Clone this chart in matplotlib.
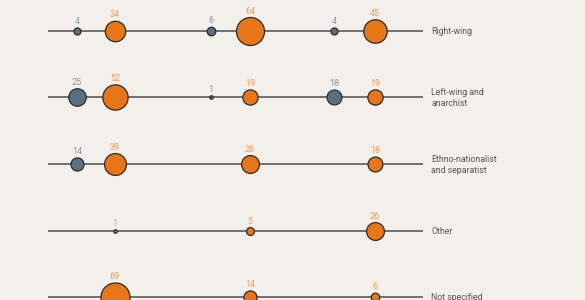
import numpy as np
import matplotlib.pyplot as plt

plt.rcParams['font.family'] = ['Roboto', 'DejaVu Sans']

# rows of the chart
categories = ["Right-wing", "Left-wing and\nanarchist", "Ethno-nationalist\nand separatist",
              "Other", "Not specified"]

# three groups, each with a grey and an orange series (None = no circle)
grey_1 = [4, 25, 14, None, None]
orange_1 = [34, 52, 39, 1, 69]
grey_2 = [6, 1, None, None, None]
orange_2 = [64, 19, 26, 5, 14]
grey_3 = [4, 18, None, None, None]
orange_3 = [45, 19, 18, 26, 6]

BG = '#f3f0eb'
GREY = '#5a6e84'
ORANGE = '#e87517'
GREY_TXT = '#8a96a4'
ORANGE_TXT = '#f09a50'

fig = plt.figure(figsize=(5.85, 3.0), dpi=100, facecolor=BG)
ax = fig.add_axes([0, 0, 1, 1])
ax.set_facecolor(BG)
ax.set_xlim(0, 585)
ax.set_ylim(300, 0)
ax.axis('off')

row_y = [31, 97, 164, 231, 297]
group_x = [(77, 115), (211, 250), (334, 375)]
series = [(grey_1, orange_1), (grey_2, orange_2), (grey_3, orange_3)]

PX = 72 / 100  # points per pixel


def radius_px(v):
    return 1.75 * np.sqrt(v)


for y, cat in zip(row_y, categories):
    ax.plot([48, 423], [y, y], color='#5b5b5b', lw=1.2, zorder=1, solid_capstyle='butt')
    ax.text(431, y + 1, cat, fontsize=6.3, color='#555555', va='center', ha='left',
            linespacing=1.4)

for (gx, ox), (gvals, ovals) in zip(group_x, series):
    for xpos, vals, fill, tcol in [(gx, gvals, GREY, GREY_TXT), (ox, ovals, ORANGE, ORANGE_TXT)]:
        for y, v in zip(row_y, vals):
            if v is None:
                continue
            r = radius_px(v)
            ax.scatter([xpos], [y], s=(2 * r * PX) ** 2, color=fill, edgecolor='#2b2b2b',
                       linewidth=0.9, zorder=3)
            ax.annotate(str(v), (xpos, y - r), xytext=(0, 2.5), textcoords='offset points',
                        ha='center', va='baseline', fontsize=6.5, color=tcol)

fig.savefig('out.png', dpi=100, facecolor=BG)
